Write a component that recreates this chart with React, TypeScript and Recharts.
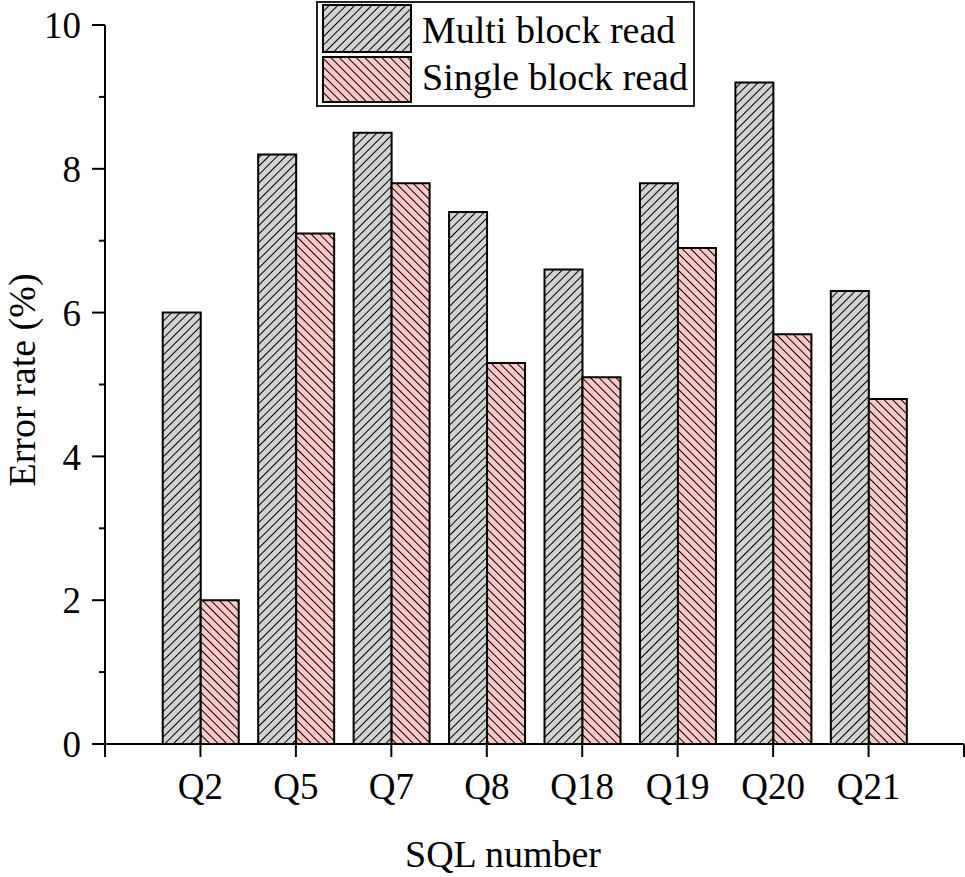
import React from 'react'
import { BarChart, Bar, XAxis, YAxis, Legend } from 'recharts'

const categories = ['Q2', 'Q5', 'Q7', 'Q8', 'Q18', 'Q19', 'Q20', 'Q21']
const multiBlock = [6.0, 8.2, 8.5, 7.4, 6.6, 7.8, 9.2, 6.3]
const singleBlock = [2.0, 7.1, 7.8, 5.3, 5.1, 6.9, 5.7, 4.8]
const yTicks = [0, 1, 2, 3, 4, 5, 6, 7, 8, 9, 10]
// slot positions on the x axis: 0 and 9 are the empty ends of the frame
const xTicks = [0, 1, 2, 3, 4, 5, 6, 7, 8, 9]

const data = categories.map((name, i) => ({
  name,
  pos: i + 1,
  multi: multiBlock[i],
  single: singleBlock[i],
}))

const FONT = '"Liberation Serif", "Times New Roman", serif'
const axisStroke = { stroke: '#000', strokeWidth: 2 }

function PatternDefs() {
  return (
    <svg width={0} height={0} style={{ position: 'absolute' }}>
      <defs>
        <pattern id="hatchGray" width={6} height={6} patternUnits="userSpaceOnUse" patternTransform="rotate(45)">
          <rect width={6} height={6} fill="#d3d3d3" />
          <line x1={0} y1={0} x2={0} y2={6} stroke="#000" strokeWidth={2} />
        </pattern>
        <pattern id="hatchPink" width={6} height={6} patternUnits="userSpaceOnUse" patternTransform="rotate(-45)">
          <rect width={6} height={6} fill="#ffc8c8" />
          <line x1={0} y1={0} x2={0} y2={6} stroke="#000" strokeWidth={2} />
        </pattern>
      </defs>
    </svg>
  )
}

function LegendBox() {
  return (
    <svg width={380} height={107} style={{ display: 'block' }}>
      <rect x={1} y={1} width={377} height={104} fill="#fff" stroke="#222" strokeWidth={2} />
      <rect x={7} y={4} width={88} height={47} fill="url(#hatchGray)" stroke="#000" strokeWidth={2} />
      <rect x={7} y={56} width={88} height={45} fill="url(#hatchPink)" stroke="#000" strokeWidth={2} />
      <text x={106} y={42} fontFamily={FONT} fontSize={38} fill="#000">Multi block read</text>
      <text x={106} y={89} fontFamily={FONT} fontSize={38} fill="#000">Single block read</text>
    </svg>
  )
}

// y tick: long tick + label on even values, short tick on odd values
function YTick(props: any) {
  const { x, y, payload } = props
  const v = payload.value as number
  const axisX = x + 24
  const major = v % 2 === 0
  return (
    <g>
      <line x1={axisX - (major ? 13 : 6)} x2={axisX} y1={y} y2={y} stroke="#000" strokeWidth={2} />
      {major && (
        <text x={x} y={y} dy="0.355em" textAnchor="end" fontFamily={FONT} fontSize={37} fill="#000">
          {v}
        </text>
      )}
    </g>
  )
}

export default function App() {
  return (
    <div style={{ position: 'absolute', top: 0, left: 0, width: 965, height: 877, background: '#fff' }}>
      <PatternDefs />
      <BarChart
        width={965}
        height={877}
        data={data}
        margin={{ top: 25, right: 1, bottom: 0, left: 0 }}
        barSize={38}
        barGap={0}
      >
        <XAxis
          dataKey="pos"
          type="number"
          domain={[0, 9]}
          ticks={xTicks}
          allowDataOverflow
          interval={0}
          tickFormatter={(v: number) => categories[v - 1] ?? ''}
          tickSize={13}
          tickMargin={16}
          tickLine={axisStroke}
          axisLine={axisStroke}
          height={133}
          tick={{ fill: '#000', fontSize: 37, fontFamily: FONT }}
          label={{
            content: () => (
              <text x={503} y={867} textAnchor="middle" fontFamily={FONT} fontSize={38} fill="#000">
                SQL number
              </text>
            ),
          }}
        />
        <YAxis
          domain={[0, 10]}
          ticks={yTicks}
          interval={0}
          width={105}
          tickSize={13}
          tickMargin={11}
          tickLine={false}
          axisLine={axisStroke}
          tick={<YTick />}
          label={{
            content: () => (
              <text
                transform="translate(35,380) rotate(-90)"
                textAnchor="middle"
                fontFamily={FONT}
                fontSize={38}
                fill="#000"
              >
                Error rate (%)
              </text>
            ),
          }}
        />
        <Legend
          layout="horizontal"
          verticalAlign="middle"
          align="center"
          wrapperStyle={{ position: 'absolute', left: 316, top: 1, width: 380, height: 107 }}
          content={() => <LegendBox />}
        />
        <Bar
          dataKey="multi"
          name="Multi block read"
          fill="url(#hatchGray)"
          stroke="#000"
          strokeWidth={2}
          isAnimationActive={false}
        />
        <Bar
          dataKey="single"
          name="Single block read"
          fill="url(#hatchPink)"
          stroke="#000"
          strokeWidth={2}
          isAnimationActive={false}
        />
      </BarChart>
    </div>
  )
}
